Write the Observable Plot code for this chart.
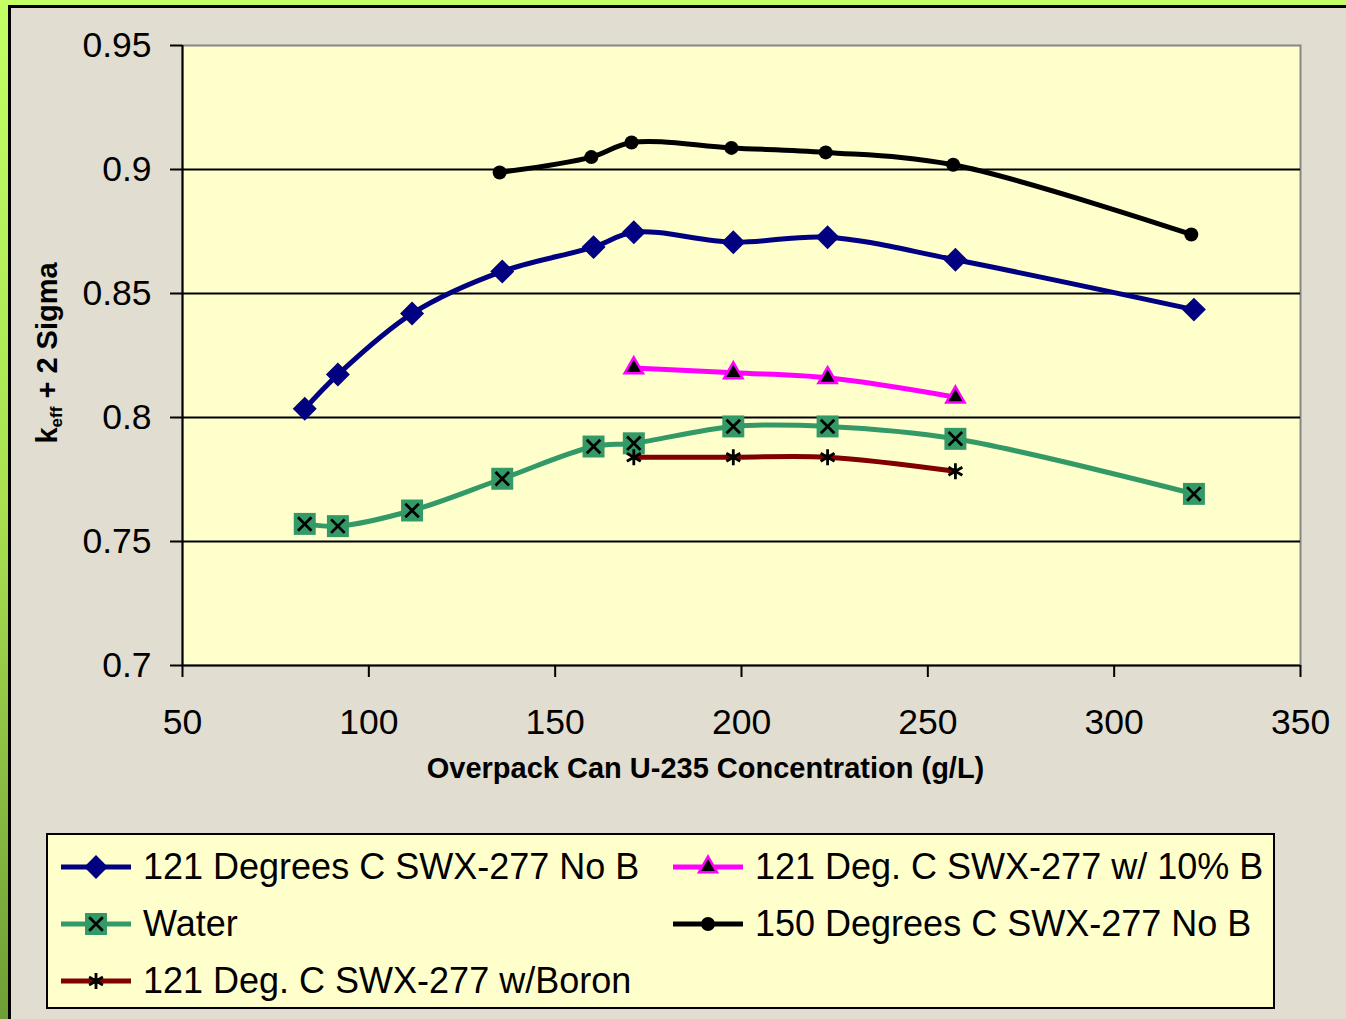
<!DOCTYPE html>
<html>
<head>
<meta charset="utf-8">
<script src="https://cdn.jsdelivr.net/npm/d3@7"></script>
<script src="https://cdn.jsdelivr.net/npm/@observablehq/plot@0.6"></script>
<style>
  html, body { margin: 0; padding: 0; }
  body { width: 1346px; height: 1019px; overflow: hidden; position: relative;
         background: linear-gradient(180deg, #c4ff66 0%, #a8e050 50%, #6f9e36 100%);
         font-family: "Liberation Sans", Arial, sans-serif; }
  #frame { position: absolute; left: 8px; top: 5px; width: 1400px; height: 1100px;
           border: 3px solid #000; background: #e1ddd0; }
  #chart { position: absolute; left: 0; top: 0; }
  #legend { position: absolute; left: 46px; top: 833px; width: 1225px; height: 172px;
            border: 2px solid #000; background: #ffffcc; }
  .item { position: absolute; display: flex; align-items: center; font-size: 36px; color: #000; white-space: nowrap; }
  .item svg { margin-right: 11px; }
</style>
</head>
<body>
<div id="frame"></div>
<div id="chart"></div>
<div id="legend"></div>
<script>
// ---- data ----
const xTicks = [50, 100, 150, 200, 250, 300, 350];
const yTicks = [0.7, 0.75, 0.8, 0.85, 0.9, 0.95];
const gridY = [0.75, 0.8, 0.85, 0.9];

const concA = [82.8, 91.7, 111.6, 135.8, 160.3, 171.1, 197.8, 223.1, 257.4, 321.4];
const noB121 = [0.8035, 0.8173, 0.8419, 0.8589, 0.8687, 0.8747, 0.8707, 0.8727, 0.8636, 0.8435];
const water  = [0.7571, 0.7562, 0.7625, 0.7753, 0.7883, 0.7896, 0.7964, 0.7964, 0.7914, 0.7692];

const concB = [171.1, 197.8, 223.1, 257.4];
const boron10 = [0.8200, 0.8180, 0.8160, 0.8082];
const boron   = [0.7840, 0.7840, 0.7840, 0.7783];

const conc150 = [135.1, 159.7, 170.5, 197.3, 222.6, 256.8, 320.7];
const noB150  = [0.8988, 0.9050, 0.9109, 0.9087, 0.9069, 0.9019, 0.8738];

const seriesNames = [
  "121 Degrees C SWX-277 No B",
  "121 Deg. C SWX-277 w/ 10% B",
  "Water",
  "150 Degrees C SWX-277 No B",
  "121 Deg. C SWX-277 w/Boron"
];

const zip = (xs, ys) => xs.map((x, i) => ({x, y: ys[i]}));
const dBlue = zip(concA, noB121);
const dMag = zip(concB, boron10);
const dGreen = zip(concA, water);
const dBlack = zip(conc150, noB150);
const dBrown = zip(concB, boron);

const curve = "catmull-rom";
const SW = 5;

const plot = Plot.plot({
  width: 1346,
  height: 820,
  marginLeft: 182,
  marginRight: 46,
  marginTop: 45,
  marginBottom: 155,
  style: {background: "transparent", fontFamily: "Liberation Sans, Arial, sans-serif", overflow: "visible"},
  x: {domain: [50, 350]},
  y: {domain: [0.7, 0.95]},
  marks: [
    Plot.frame({fill: "#ffffcc", stroke: "#868686", strokeWidth: 2}),
    Plot.ruleY(gridY, {stroke: "#000", strokeWidth: 2}),
    Plot.ruleX([50], {stroke: "#000", strokeWidth: 2}),
    Plot.ruleY([0.7], {stroke: "#000", strokeWidth: 2}),
    Plot.axisY({ticks: yTicks, tickFormat: d => String(d), tickSize: 12, tickPadding: 19,
                fontSize: 35.5, stroke: "#000", strokeWidth: 2, color: "#000", label: null}),
    Plot.axisX({ticks: xTicks, tickFormat: d => String(d), tickSize: 12, tickPadding: 31,
                fontSize: 35.5, stroke: "#000", strokeWidth: 2, color: "#000", label: null}),
    // 121 No B
    Plot.line(dBlue, {x: "x", y: "y", stroke: "#000080", strokeWidth: SW, curve}),
    Plot.dot(dBlue, {x: "x", y: "y", symbol: "diamond2", r: 10.8, fill: "#000080"}),
    // 121 w/ 10% B
    Plot.line(dMag, {x: "x", y: "y", stroke: "#ff00ff", strokeWidth: SW, curve}),
    Plot.dot(dMag, {x: "x", y: "y", symbol: "triangle", r: 6.8, fill: "#000", stroke: "#ff00ff", strokeWidth: 2.5}),
    // Water
    Plot.line(dGreen, {x: "x", y: "y", stroke: "#339966", strokeWidth: SW, curve}),
    Plot.dot(dGreen, {x: "x", y: "y", symbol: "square", r: 12.4, fill: "#339966"}),
    Plot.dot(dGreen, {x: "x", y: "y", symbol: "times", r: 6.2, stroke: "#000", strokeWidth: 2.8}),
    // 150 No B
    Plot.line(dBlack, {x: "x", y: "y", stroke: "#000", strokeWidth: SW, curve}),
    Plot.dot(dBlack, {x: "x", y: "y", symbol: "circle", r: 7, fill: "#000"}),
    // 121 w/Boron
    Plot.line(dBrown, {x: "x", y: "y", stroke: "#800000", strokeWidth: SW, curve}),
    Plot.dot(dBrown, {x: "x", y: "y", symbol: "asterisk", r: 7.6, stroke: "#000", strokeWidth: 2.8}),
    // axis title
    Plot.text(["Overpack Can U-235 Concentration (g/L)"], {
      frameAnchor: "bottom", dx: -36, dy: 112, text: d => d, fontSize: 29, fontWeight: "bold", fill: "#000"
    })
  ]
});
document.getElementById("chart").appendChild(plot);

// y axis title with subscript
const svg = d3.select(plot);
const yt = svg.append("text")
  .attr("transform", "translate(57,353) rotate(-90)")
  .attr("text-anchor", "middle")
  .attr("font-family", "Liberation Sans, Arial, sans-serif")
  .attr("font-weight", "bold")
  .attr("font-size", 29)
  .attr("fill", "#000");
yt.append("tspan").text("k");
yt.append("tspan").attr("font-size", 17).attr("dy", 5).text("eff");
yt.append("tspan").attr("dy", -5).text(" + 2 Sigma");

// ---- legend ----
const legendSpecs = [
  {name: seriesNames[0], color: "#000080", sym: d3.symbolDiamond2, size: 360, fill: "#000080"},
  {name: seriesNames[1], color: "#ff00ff", sym: d3.symbolTriangle, size: 140, fill: "#000", stroke: "#ff00ff", sw: 2.5},
  {name: seriesNames[2], color: "#339966", sym: d3.symbolSquare, size: 484, fill: "#339966", over: d3.symbolTimes, overSize: 122},
  {name: seriesNames[3], color: "#000", sym: d3.symbolCircle, size: 154, fill: "#000"},
  {name: seriesNames[4], color: "#800000", sym: d3.symbolAsterisk, size: 180, fill: "none", stroke: "#000", sw: 2.8}
];
const pos = [
  {left: 12, top: 13}, {left: 624, top: 13},
  {left: 12, top: 70}, {left: 624, top: 70},
  {left: 12, top: 127}
];
const legend = d3.select("#legend");
legendSpecs.forEach((s, i) => {
  const it = legend.append("div").attr("class", "item")
    .style("left", pos[i].left + "px").style("top", pos[i].top + "px").style("height", "38px");
  const sv = it.append("svg").attr("width", 72).attr("height", 38);
  sv.append("line").attr("x1", 1).attr("x2", 71).attr("y1", 19).attr("y2", 19)
    .attr("stroke", s.color).attr("stroke-width", 5);
  sv.append("path").attr("transform", "translate(36,19)")
    .attr("d", d3.symbol(s.sym, s.size)())
    .attr("fill", s.fill).attr("stroke", s.stroke || "none").attr("stroke-width", s.sw || 0);
  if (s.over) {
    sv.append("path").attr("transform", "translate(36,19)")
      .attr("d", d3.symbol(s.over, s.overSize)())
      .attr("fill", "none").attr("stroke", "#000").attr("stroke-width", 2.8);
  }
  it.append("span").text(s.name);
});
</script>
</body>
</html>
